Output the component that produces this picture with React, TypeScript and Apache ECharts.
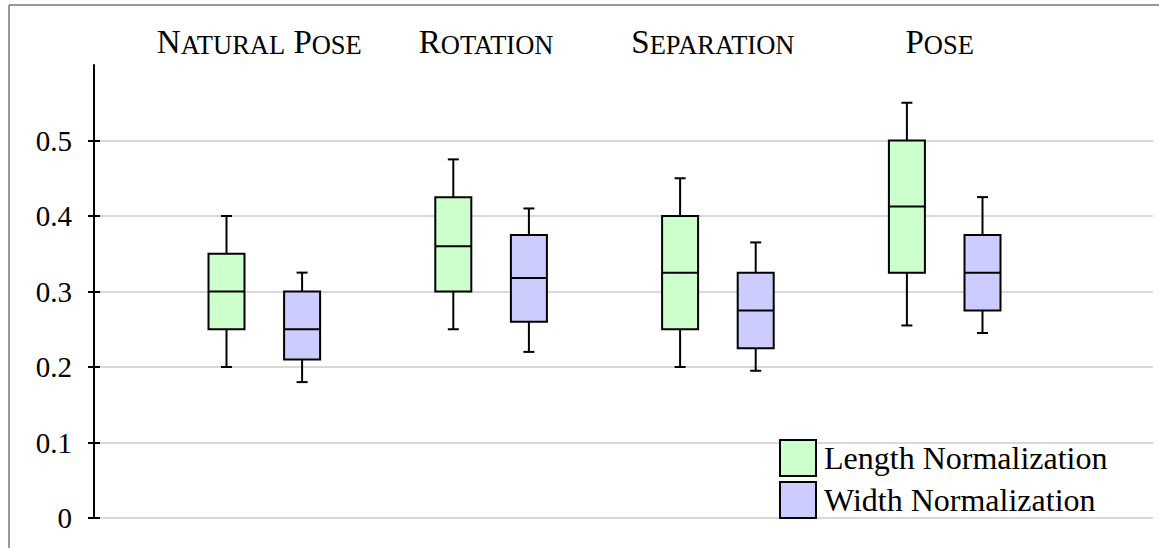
import React, { useEffect, useRef } from "react";
import * as echarts from "echarts";

const categories = ["Natural Pose", "Rotation", "Separation", "Pose"];
// [min, Q1, median, Q3, max]
const lengthNorm = [
  [0.2, 0.25, 0.3, 0.35, 0.4],
  [0.25, 0.3, 0.36, 0.425, 0.475],
  [0.2, 0.25, 0.325, 0.4, 0.45],
  [0.255, 0.325, 0.4125, 0.5, 0.55],
];
const widthNorm = [
  [0.18, 0.21, 0.25, 0.3, 0.325],
  [0.22, 0.26, 0.318, 0.375, 0.41],
  [0.195, 0.225, 0.275, 0.325, 0.365],
  [0.245, 0.275, 0.325, 0.375, 0.425],
];
const seriesNames = ["Length Normalization", "Width Normalization"];
const seriesColors = ["#ccffcc", "#ccccff"];

const FONT = "'Liberation Serif', 'Times New Roman', serif";

function makeRender(side: number) {
  return (params: any, api: any) => {
    const i = api.value(0);
    const band = api.size([1, 0])[0];
    const cx = api.coord([i, 0])[0] + (side * band) / 6;
    const y = (k: number) => api.coord([i, api.value(k)])[1];
    const yMin = y(1), yQ1 = y(2), yMed = y(3), yQ3 = y(4), yMax = y(5);
    const w = 36;
    const cap = 11;
    const ls = { stroke: "#000", lineWidth: 2 };
    const fill = api.visual("color");
    return {
      type: "group",
      children: [
        { type: "line", shape: { x1: cx, y1: yQ3, x2: cx, y2: yMax }, style: ls },
        { type: "line", shape: { x1: cx, y1: yQ1, x2: cx, y2: yMin }, style: ls },
        { type: "line", shape: { x1: cx - cap / 2, y1: yMax, x2: cx + cap / 2, y2: yMax }, style: ls },
        { type: "line", shape: { x1: cx - cap / 2, y1: yMin, x2: cx + cap / 2, y2: yMin }, style: ls },
        {
          type: "rect",
          shape: { x: cx - w / 2, y: yQ3, width: w, height: yQ1 - yQ3 },
          style: { fill, stroke: "#000", lineWidth: 2 },
        },
        { type: "line", shape: { x1: cx - w / 2, y1: yMed, x2: cx + w / 2, y2: yMed }, style: ls },
      ],
    };
  };
}

export default function App() {
  const ref = useRef<HTMLDivElement>(null);
  useEffect(() => {
    if (!ref.current) return;
    const chart = echarts.init(ref.current, undefined, { renderer: "svg" });
    const hiddenY = (gridIndex: number, max: number) => ({
      type: "value",
      gridIndex,
      min: 0,
      max,
      show: false,
    });
    const option: any = {
      animation: false,
      backgroundColor: "#fff",
      textStyle: { fontFamily: FONT },
      grid: [
        { left: 94, right: 6, top: 65, bottom: 30 },
        { left: 94, right: 6, top: 140.5, bottom: 30 },
        { left: 150.9, right: 100.9, top: 65, bottom: 30 },
      ],
      xAxis: [
        { type: "value", gridIndex: 0, show: false, min: 0, max: 1 },
        { type: "value", gridIndex: 1, show: false, min: 0, max: 1 },
        {
          type: "category",
          gridIndex: 2,
          position: "top",
          data: categories,
          axisLine: { show: false },
          axisTick: { show: false },
          splitLine: { show: false },
          axisLabel: {
            interval: 0,
            hideOverlap: false,
            margin: 7,
            padding: [0, 10, 0, 0],
            formatter: (v: string) =>
              v
                .split(" ")
                .map((w) => `{b|${w[0]}}{s|${w.slice(1).toUpperCase()}}`)
                .join("{b| }"),
            rich: {
              b: { fontFamily: FONT, fontSize: 33, color: "#000", lineHeight: 36, verticalAlign: "bottom" },
              s: { fontFamily: FONT, fontSize: 26.5, color: "#000", lineHeight: 36, verticalAlign: "bottom" },
            },
          },
        },
      ],
      yAxis: [
        {
          type: "value",
          gridIndex: 0,
          min: 0,
          max: 0.6,
          axisLine: { show: true, lineStyle: { color: "#000", width: 2 } },
          axisTick: { show: false },
          axisLabel: { show: false },
          splitLine: { show: false },
        },
        {
          type: "value",
          gridIndex: 1,
          position: "left",
          min: 0,
          max: 0.5,
          interval: 0.1,
          axisLine: { show: false },
          axisTick: { show: true, length: 6, inside: false, lineStyle: { color: "#000", width: 2 } },
          axisLabel: { margin: 22, fontFamily: FONT, fontSize: 29, color: "#000" },
          splitLine: { show: true, lineStyle: { color: "#cccccc", width: 1.5 } },
        },
        {
          type: "value",
          gridIndex: 1,
          position: "left",
          min: 0,
          max: 0.5,
          interval: 0.1,
          axisLine: { show: false },
          axisTick: { show: true, length: 6, inside: true, lineStyle: { color: "#000", width: 2 } },
          axisLabel: { show: false },
          splitLine: { show: false },
        },
        hiddenY(2, 0.6),
      ],
      legend: {
        orient: "vertical",
        left: 774,
        top: 434,
        itemWidth: 36,
        itemHeight: 36,
        itemGap: 4,
        icon: "rect",
        textStyle: { fontFamily: FONT, fontSize: 32, color: "#000", lineHeight: 36, padding: [0, 0, 0, 3] },
        data: seriesNames.map((n, i) => ({
          name: n,
          icon: "rect",
          itemStyle: { color: seriesColors[i], borderColor: "#000", borderWidth: 2 },
        })),
      },
      series: [lengthNorm, widthNorm].map((arr, si) => ({
        name: seriesNames[si],
        type: "custom",
        xAxisIndex: 2,
        yAxisIndex: 3,
        itemStyle: { color: seriesColors[si] },
        encode: { x: 0, y: [1, 2, 3, 4, 5] },
        data: arr.map((v, i) => [i, ...v]),
        renderItem: makeRender(si === 0 ? -1 : 1),
      })),
      graphic: [
        { type: "line", shape: { x1: 9, y1: 5, x2: 1159, y2: 5 }, style: { stroke: "#777", lineWidth: 1.5 }, z: 100 },
        { type: "line", shape: { x1: 9, y1: 5, x2: 9, y2: 548 }, style: { stroke: "#777", lineWidth: 1.5 }, z: 100 },
      ],
    };
    chart.setOption(option);
    return () => chart.dispose();
  }, []);
  return (
    <div
      ref={ref}
      style={{ position: "absolute", left: 0, top: 0, width: 1159, height: 548, background: "#fff" }}
    />
  );
}
